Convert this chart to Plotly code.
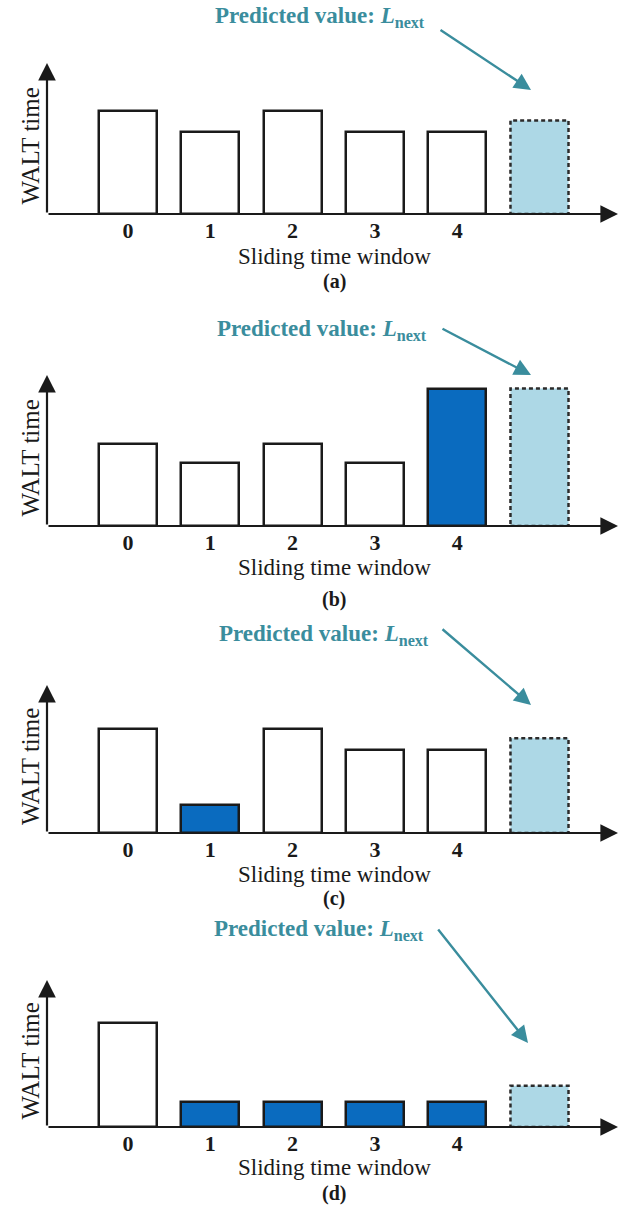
import plotly.graph_objects as go

# ---------------- data ----------------
categories = [0, 1, 2, 3, 4]
tick_labels = ["0", "1", "2", "3", "4"]
panel_labels = ["(a)", "(b)", "(c)", "(d)"]
next_position = 5

values_a = [6.8, 5.4, 6.8, 5.4, 5.4]
values_b = [5.4, 4.2, 5.4, 4.2, 9.1]
values_c = [7.0, 1.9, 7.0, 5.6, 5.6]
values_d = [7.1, 1.7, 1.7, 1.7, 1.7]

predicted_a = 6.2
predicted_b = 9.1
predicted_c = 6.4
predicted_d = 2.8

highlight_a = []
highlight_b = [4]
highlight_c = [1]
highlight_d = [1, 2, 3, 4]

x_title = "Sliding time window"
y_title = "WALT time"
pred_text = "<b>Predicted value: <i>L</i><sub>next</sub></b>"

# ---------------- style / layout ----------------
W, H = 635, 1206
FONT = "Liberation Serif"
EDGE = "#1a1a1a"
BLUE = "#0a6bbf"
LIGHT = "#add8e6"
TEAL = "#3a8d9d"
BAR_W = 0.705
XMIN, XMAX = -0.984, 5.954
Y_MAX = 10
X_LEFT_PX, X_RIGHT_PX = 47, 618

axis_bottom_px = [214, 526, 833, 1127]
axis_top_px = [63, 375, 685, 980]
title_center_px = [256, 567, 874, 1167]
label_center_px = [282, 599, 898, 1193]
pred_text_px = [(320, 17), (322, 330), (324, 635), (319, 930)]
arrow_tail_px = [(439, 29), (441, 328), (441, 628), (437, 928)]
arrow_head_px = [(531, 90), (531, 375), (531, 705), (528, 1043)]

values = [values_a, values_b, values_c, values_d]
predicted = [predicted_a, predicted_b, predicted_c, predicted_d]
highlights = [highlight_a, highlight_b, highlight_c, highlight_d]

fig = go.Figure()
layout_axes = {}
annotations = []

for i in range(4):
    xa = "x" if i == 0 else f"x{i+1}"
    ya = "y" if i == 0 else f"y{i+1}"
    xkey = "xaxis" if i == 0 else f"xaxis{i+1}"
    ykey = "yaxis" if i == 0 else f"yaxis{i+1}"

    colors = [BLUE if c in highlights[i] else "white" for c in categories]
    fig.add_trace(go.Bar(
        x=categories, y=values[i], width=BAR_W,
        marker=dict(color=colors, line=dict(color=EDGE, width=2.5)),
        xaxis=xa, yaxis=ya, showlegend=False, hoverinfo="skip",
    ))
    fig.add_shape(
        type="rect", xref=xa, yref=ya,
        x0=next_position - BAR_W / 2, x1=next_position + BAR_W / 2,
        y0=0, y1=predicted[i],
        fillcolor=LIGHT,
        line=dict(color="#2b2b2b", width=2.5, dash="4px,3px"),
    )

    layout_axes[xkey] = dict(
        domain=[X_LEFT_PX / W, X_RIGHT_PX / W], range=[XMIN, XMAX], anchor=ya,
        showgrid=False, zeroline=False, showline=False,
        tickvals=categories, ticktext=[f"<b>{t}</b>" for t in tick_labels],
        ticks="", ticklabelstandoff=1,
        tickfont=dict(family=FONT, size=22, color=EDGE), fixedrange=True,
    )
    layout_axes[ykey] = dict(
        domain=[1 - axis_bottom_px[i] / H, 1 - axis_top_px[i] / H],
        range=[0, Y_MAX], anchor=xa, visible=False, fixedrange=True,
    )

    # axes drawn as arrows
    annotations.append(dict(
        x=XMAX, y=0, xref=xa, yref=ya, ax=XMIN, ay=0, axref=xa, ayref=ya,
        showarrow=True, arrowhead=2, arrowsize=1.6, arrowwidth=2.2,
        arrowcolor=EDGE, text="", standoff=0, startstandoff=0,
    ))
    annotations.append(dict(
        x=XMIN, y=Y_MAX, xref=xa, yref=ya, ax=XMIN, ay=0, axref=xa, ayref=ya,
        showarrow=True, arrowhead=2, arrowsize=1.6, arrowwidth=2.2,
        arrowcolor=EDGE, text="", standoff=0, startstandoff=0,
    ))

    # titles
    annotations.append(dict(
        x=334 / W, y=1 - title_center_px[i] / H, xref="paper", yref="paper",
        text=x_title, showarrow=False, xanchor="center", yanchor="middle",
        font=dict(family=FONT, size=23, color=EDGE),
    ))
    annotations.append(dict(
        x=334 / W, y=1 - label_center_px[i] / H, xref="paper", yref="paper",
        text=f"<b>{panel_labels[i]}</b>", showarrow=False, xanchor="center", yanchor="middle",
        font=dict(family=FONT, size=20, color=EDGE),
    ))
    yc = (axis_bottom_px[i] + axis_top_px[i]) / 2 + 8
    annotations.append(dict(
        x=30 / W, y=1 - yc / H, xref="paper", yref="paper",
        text=y_title, showarrow=False, textangle=-90, xanchor="center", yanchor="middle",
        font=dict(family=FONT, size=25, color=EDGE),
    ))

    # predicted value label and arrow
    tx, ty = pred_text_px[i]
    annotations.append(dict(
        x=tx / W, y=1 - ty / H, xref="paper", yref="paper",
        text=pred_text, showarrow=False, xanchor="center", yanchor="middle",
        font=dict(family=FONT, size=23, color=TEAL),
    ))
    hx, hy = arrow_head_px[i]
    sx, sy = arrow_tail_px[i]
    annotations.append(dict(
        x=hx / W, y=1 - hy / H, xref="paper", yref="paper",
        ax=sx - hx, ay=sy - hy, text="", showarrow=True,
        arrowhead=2, arrowsize=1.4, arrowwidth=2.4, arrowcolor=TEAL,
        standoff=0, startstandoff=0,
    ))

fig.update_layout(
    width=W, height=H, margin=dict(l=0, r=0, t=0, b=0),
    paper_bgcolor="white", plot_bgcolor="white",
    bargap=0, showlegend=False,
    annotations=annotations,
    **layout_axes,
)

fig.write_html("out.html")
